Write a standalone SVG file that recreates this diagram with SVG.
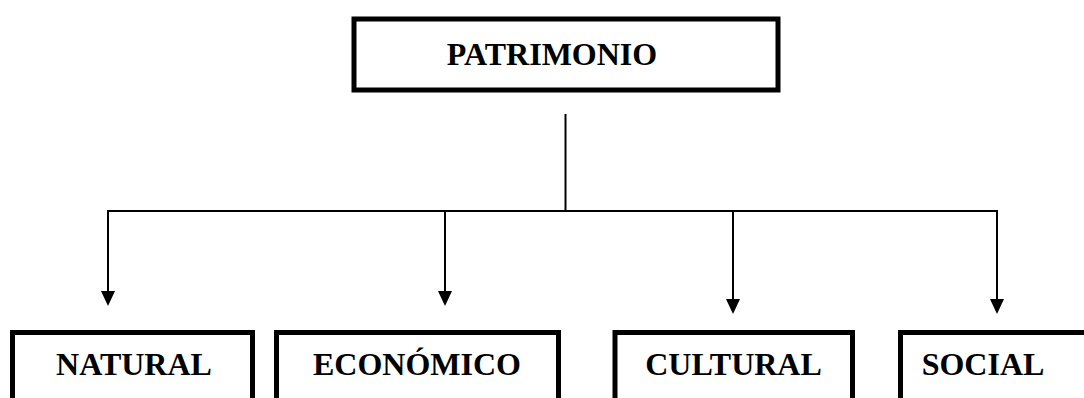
<svg xmlns="http://www.w3.org/2000/svg" width="1084" height="398" viewBox="0 0 1084 398">
  <style>
    .box { fill: #ffffff; stroke: #000000; stroke-width: 5; }
    .lbl { font-family: "Liberation Serif", "Times New Roman", serif; font-weight: bold; font-size: 32px; fill: #000000; text-anchor: middle; }
    .con { fill: none; stroke: #000000; stroke-width: 2; }
  </style>
  <defs>
    <marker id="arrow" markerUnits="userSpaceOnUse" markerWidth="16" markerHeight="16" viewBox="0 0 14 15" refX="7" refY="15" orient="auto-start-reverse">
      <path d="M0,0 L14,0 L7,15 Z" fill="#000000"/>
    </marker>
  </defs>
  <g id="connectors">
    <line class="con" x1="565.5" y1="114" x2="565.5" y2="211"/>
    <polyline class="con" points="108,291 108,211 997,211 997,299"/>
    <line class="con" x1="445" y1="211" x2="445" y2="291"/>
    <line class="con" x1="733" y1="211" x2="733" y2="299"/>
    <path d="M101,291 L115,291 L108,306 Z" fill="#000"/>
    <path d="M438,291 L452,291 L445,306 Z" fill="#000"/>
    <path d="M726,299 L740,299 L733,314 Z" fill="#000"/>
    <path d="M990,299 L1004,299 L997,314 Z" fill="#000"/>
  </g>
  <g id="node-patrimonio">
    <rect class="box" x="354" y="19" width="424" height="71"/>
    <text class="lbl" x="552" y="65">PATRIMONIO</text>
  </g>
  <g id="node-natural">
    <rect class="box" x="12.5" y="332.5" width="240" height="100"/>
    <text class="lbl" x="134" y="375">NATURAL</text>
  </g>
  <g id="node-economico">
    <rect class="box" x="276.5" y="332.5" width="282" height="100"/>
    <text class="lbl" x="417" y="375">ECONÓMICO</text>
  </g>
  <g id="node-cultural">
    <rect class="box" x="615" y="332.5" width="237.5" height="100"/>
    <text class="lbl" x="733.5" y="375">CULTURAL</text>
  </g>
  <g id="node-social">
    <rect class="box" x="900.5" y="332.5" width="190" height="100"/>
    <text class="lbl" x="983" y="375">SOCIAL</text>
  </g>
</svg>
